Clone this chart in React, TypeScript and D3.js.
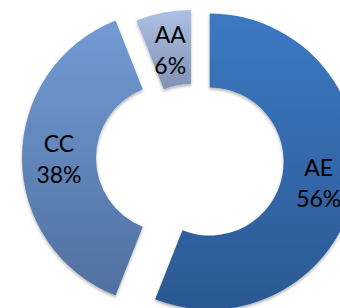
import React from "react";
import * as d3 from "d3";

// doughnut with exploded slices, Excel style
const categories = ["AE", "CC", "AA"];
const values = [56, 38, 6];
const labels = ["56%", "38%", "6%"];

const W = 340;
const H = 308;
const cx = 191;
const cy = 158;
const outerR = 148;
const innerR = 74;

// how far each slice is pulled out from the centre
const explode: Record<string, number> = { AE: 19, CC: 21, AA: 0 };
const fills: Record<string, [string, string]> = {
  AE: ["#3c79c2", "#2b5893"],
  CC: ["#729bd4", "#50709f"],
  AA: ["#adc0e3", "#8192b3"],
};

export default function App() {
  const pie = d3
    .pie<number>()
    .sort(null)
    .startAngle(0)
    .endAngle(2 * Math.PI)
    .value((d) => d);
  const arcs = pie(values);
  const arc = d3.arc<d3.PieArcDatum<number>>().innerRadius(innerR).outerRadius(outerR);

  return (
    <svg
      width={W}
      height={H}
      style={{ position: "absolute", left: 0, top: 0, background: "#fff" }}
      fontFamily="Lato, 'Open Sans', sans-serif"
    >
      <defs>
        {categories.map((c) => (
          <linearGradient key={c} id={"g" + c} x1="0" y1="0" x2="0" y2="1">
            <stop offset="0" stopColor={fills[c][0]} />
            <stop offset="1" stopColor={fills[c][1]} />
          </linearGradient>
        ))}
        <filter id="shadow" x="-20%" y="-20%" width="140%" height="140%">
          <feDropShadow dx="0" dy="2" stdDeviation="1.6" floodColor="#000" floodOpacity="0.3" />
        </filter>
      </defs>
      {arcs.map((a, i) => {
        const c = categories[i];
        const mid = (a.startAngle + a.endAngle) / 2;
        const dx = Math.sin(mid) * explode[c];
        const dy = -Math.cos(mid) * explode[c];
        const [lx, ly] = arc.centroid(a);
        return (
          <g key={c} transform={`translate(${cx + dx},${cy + dy})`}>
            <path d={arc(a) || ""} fill={`url(#g${c})`} filter="url(#shadow)" />
            <text x={lx} y={ly - 6} textAnchor="middle" fontSize={23} fill="#000">
              {c}
            </text>
            <text x={lx} y={ly + 25} textAnchor="middle" fontSize={23} fill="#000">
              {labels[i]}
            </text>
          </g>
        );
      })}
    </svg>
  );
}
